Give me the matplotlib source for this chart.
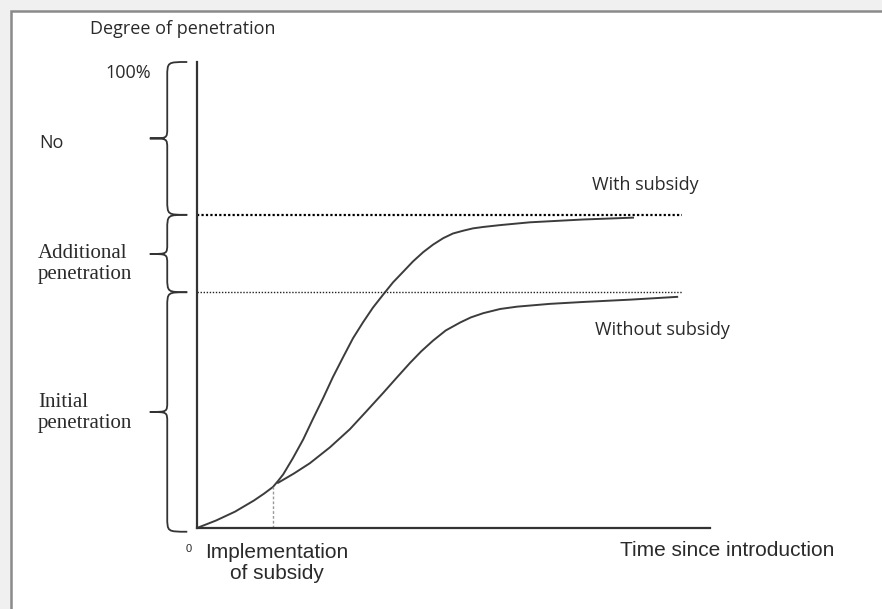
import matplotlib.pyplot as plt
from matplotlib.path import Path
from matplotlib.patches import PathPatch, Rectangle

# time since introduction (arbitrary units) and degree of penetration (%)
with_t = [0, 0.37, 0.74, 1.11, 1.31, 1.48, 1.58, 1.68, 1.87, 2.07, 2.26, 2.46, 2.65,
          2.85, 3.04, 3.24, 3.43, 3.63, 3.82, 4.02, 4.21, 4.41, 4.60, 4.80, 4.99,
          5.19, 5.38, 5.58, 5.91, 6.49, 7.52, 8.50]
with_p = [0, 1.6, 3.5, 5.9, 7.4, 8.8, 10.1, 11.5, 15.0, 19.0, 23.4, 27.9, 32.4,
          36.7, 40.7, 44.2, 47.3, 50.1, 52.7, 55.0, 57.2, 59.2, 60.8, 62.2, 63.2,
          63.8, 64.3, 64.6, 65.0, 65.6, 66.2, 66.6]

without_t = [1.58, 1.89, 2.20, 2.59, 2.98, 3.29, 3.63, 3.88, 4.15, 4.37, 4.60, 4.85,
             5.13, 5.34, 5.58, 5.91, 6.24, 6.88, 7.52, 8.44, 9.36]
without_p = [9.7, 11.7, 13.9, 17.3, 21.2, 24.9, 29.0, 32.1, 35.4, 37.9, 40.2, 42.4,
             44.1, 45.2, 46.1, 47.0, 47.5, 48.1, 48.5, 49.0, 49.6]

subsidy_t = 1.48
subsidy_p = 8.8
level_with = 67.2
level_without = 50.6
level_end = 9.45

W, H = 882, 609

fig = plt.figure(figsize=(W / 100, H / 100), dpi=100)
fig.patch.set_facecolor("#f0f0f0")
fig.patches.append(Rectangle((11 / W, -0.1), 1, 1.1 - 11 / H, transform=fig.transFigure,
                             facecolor="white", edgecolor="#8a8a8a", linewidth=1.8, zorder=-5))

ax = fig.add_axes([197 / W, (H - 528) / H, (710 - 197) / W, (528 - 62) / H])
ax.set_xlim(0, 10)
ax.set_ylim(0, 100)
ax.patch.set_alpha(0)
for s in ["top", "right"]:
    ax.spines[s].set_visible(False)
for s in ["left", "bottom"]:
    ax.spines[s].set_color("#333333")
    ax.spines[s].set_linewidth(1.6)
ax.set_xticks([])
ax.set_yticks([])

line_col = "#3c3c3c"
ax.plot(with_t, with_p, color=line_col, lw=1.4, solid_joinstyle="round")
ax.plot(without_t, without_p, color=line_col, lw=1.4, solid_joinstyle="round")
ax.plot([0, level_end], [level_with, level_with], color="black", lw=1.6, ls=(0, (1, 1)))
ax.plot([0, level_end], [level_without, level_without], color="#222222", lw=1.0, ls=(0, (1, 1.2)))
ax.plot([subsidy_t, subsidy_t], [0, subsidy_p], color="#999999", lw=1.0, ls=(0, (2, 1.5)))


def brace(y0, y1, ytip, xb=-0.19, xm=-0.58, xt=-0.92, r=3.2, rt=2.2):
    verts = [(xb, y1), (xm, y1), (xm, y1), (xm, y1 - r),
             (xm, ytip + rt),
             (xm, ytip), (xm, ytip), (xt, ytip),
             (xm, ytip), (xm, ytip), (xm, ytip - rt),
             (xm, y0 + r),
             (xm, y0), (xm, y0), (xb, y0)]
    codes = [Path.MOVETO, Path.CURVE4, Path.CURVE4, Path.CURVE4,
             Path.LINETO,
             Path.CURVE4, Path.CURVE4, Path.CURVE4,
             Path.CURVE4, Path.CURVE4, Path.CURVE4,
             Path.LINETO,
             Path.CURVE4, Path.CURVE4, Path.CURVE4]
    ax.add_patch(PathPatch(Path(verts, codes), facecolor="none", edgecolor="#333333",
                           lw=1.3, clip_on=False))


brace(level_with, 100, 83.6)
brace(level_without, level_with, 58.8)
brace(-0.8, level_without, 24.9)


def ftext(x, y, s, **kw):
    fig.text(x / W, 1 - y / H, s, **kw)


sans = "Open Sans"
serif = "Liberation Serif"
arial = "Liberation Sans"
tc = "#2a2a2a"
ftext(90, 29, "Degree of penetration", fontsize=13, family=sans, va="center", color=tc)
ftext(105, 73, "100%", fontsize=13, family=sans, va="center", color=tc)
ftext(39, 143, "No", fontsize=13, family=sans, va="center", color=tc)
ftext(38, 264, "Additional\npenetration", fontsize=15, family=serif, va="center",
      linespacing=1.15, color=tc)
ftext(38, 413, "Initial\npenetration", fontsize=15, family=serif, va="center",
      linespacing=1.15, color=tc)
ftext(189, 549, "0", fontsize=8, family=arial, va="center", ha="center", color=tc)
ftext(277, 563, "Implementation\nof subsidy", fontsize=15, family=arial, va="center",
      ha="center", linespacing=1.1, color=tc)
ftext(620, 551, "Time since introduction", fontsize=15, family=arial, va="center", color=tc)
ftext(592, 185, "With subsidy", fontsize=13, family=sans, va="center", color=tc)
ftext(595, 330, "Without subsidy", fontsize=13, family=sans, va="center", color=tc)

fig.savefig("out.png", dpi=100, facecolor=fig.get_facecolor())
